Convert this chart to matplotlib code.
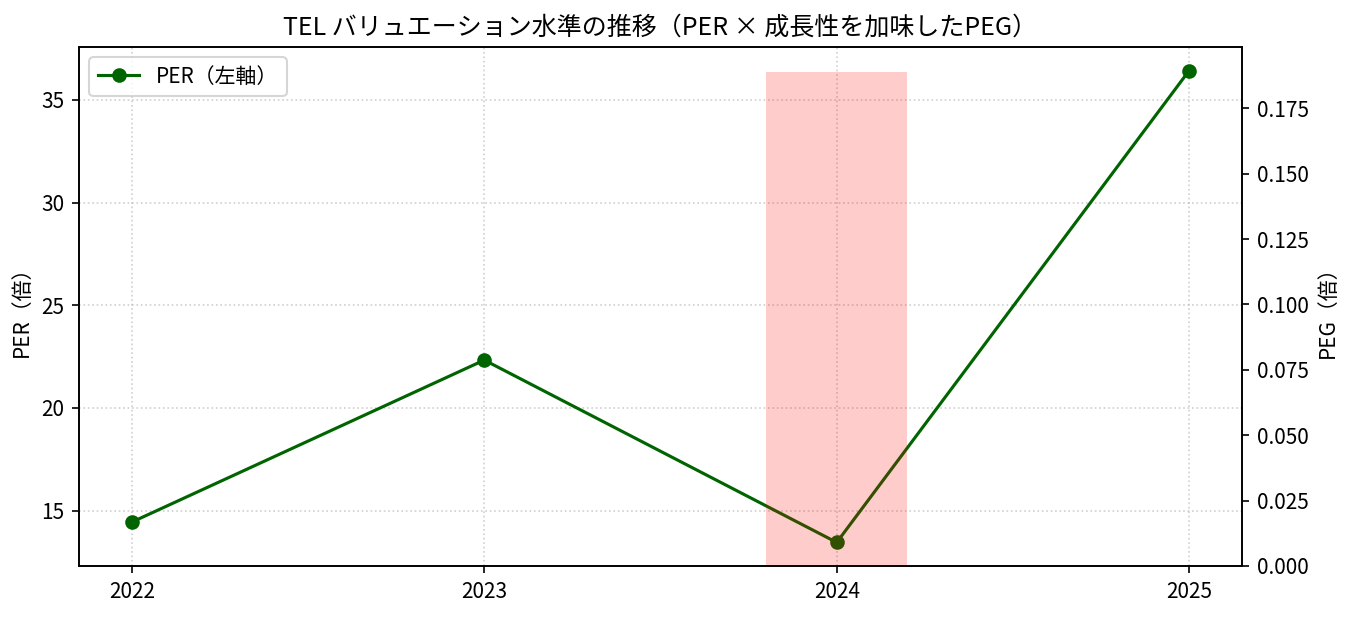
import numpy as np
import matplotlib
matplotlib.use("Agg")
from matplotlib import pyplot as plt

plt.rcParams['font.family'] = ['Noto Sans CJK JP', 'DejaVu Sans']

years = [2022, 2023, 2024, 2025]
per = [14.44, 22.33, 13.45, 36.43]
peg_years = [2024]
peg = [0.189]

fig = plt.figure(figsize=(1351/150, 617/150), dpi=150)
ax1 = fig.add_axes([79/1351, 1-566/617, (1242-79)/1351, (566-47)/617])

ax1.plot(years, per, "o-", color="darkgreen", linewidth=1.5, markersize=6, label="PER（左軸）")
ax1.set_ylabel("PER（倍）")
ax1.set_xticks(years)
ax1.grid(True, linestyle=":", alpha=0.6)

ax2 = ax1.twinx()
ax2.bar(peg_years, peg, width=0.4, color="red", alpha=0.2, label="PEG（右軸）")
ax2.set_ylabel("PEG（倍）")

ax1.legend(loc="upper left")
ax1.set_title("TEL バリュエーション水準の推移（PER × 成長性を加味したPEG）", fontsize=12)

fig.savefig("out.png", dpi=150)
